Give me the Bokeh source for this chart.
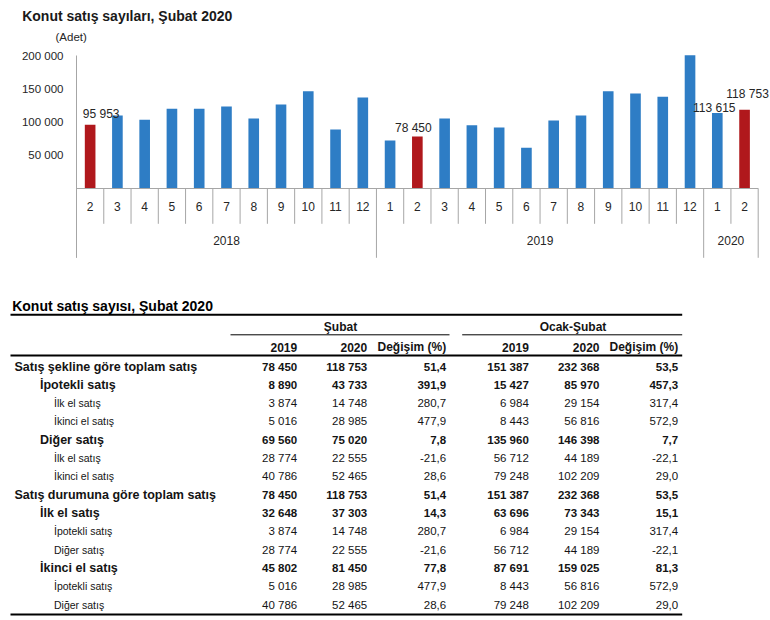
from bokeh.plotting import figure
from bokeh.models import Range1d, FixedTicker, LinearAxis, ColumnDataSource
from bokeh.core.properties import value
from bokeh.embed import file_html
from bokeh.resources import INLINE

# ---------------- data: chart ----------------
years = ["2018"] * 11 + ["2019"] * 12 + ["2020"] * 2
months = ["2", "3", "4", "5", "6", "7", "8", "9", "10", "11", "12",
          "1", "2", "3", "4", "5", "6", "7", "8", "9", "10", "11", "12",
          "1", "2"]
sales = [95953, 110000, 103500, 120000, 120000, 123500, 105500, 126500, 146500, 89000, 137000,
         72500, 78450, 105500, 95500, 92000, 61500, 102500, 110000, 146500, 143000, 138000, 200300,
         113615, 118753]
highlight_month = "2"
labelled = [0, 12, 23, 24]
y_ticks = [50000, 100000, 150000, 200000]

chart_title = "Konut satış sayıları, Şubat 2020"
unit_text = "(Adet)"

# ---------------- data: table ----------------
table_title = "Konut satış sayısı, Şubat 2020"
group_headers = ["Şubat", "Ocak-Şubat"]
col_headers = ["2019", "2020", "Değişim (%)", "2019", "2020", "Değişim (%)"]
row_labels = ["Satış şekline göre toplam satış", "İpotekli satış", "İlk el satış", "İkinci el satış",
              "Diğer satış", "İlk el satış", "İkinci el satış",
              "Satış durumuna göre toplam satış", "İlk el satış", "İpotekli satış", "Diğer satış",
              "İkinci el satış", "İpotekli satış", "Diğer satış"]
row_level = [0, 1, 2, 2, 1, 2, 2, 0, 1, 2, 2, 1, 2, 2]
subat_2019 = [78450, 8890, 3874, 5016, 69560, 28774, 40786, 78450, 32648, 3874, 28774, 45802, 5016, 40786]
subat_2020 = [118753, 43733, 14748, 28985, 75020, 22555, 52465, 118753, 37303, 14748, 22555, 81450, 28985, 52465]
subat_chg = [51.4, 391.9, 280.7, 477.9, 7.8, -21.6, 28.6, 51.4, 14.3, 280.7, -21.6, 77.8, 477.9, 28.6]
ocak_2019 = [151387, 15427, 6984, 8443, 135960, 56712, 79248, 151387, 63696, 6984, 56712, 87691, 8443, 79248]
ocak_2020 = [232368, 85970, 29154, 56816, 146398, 44189, 102209, 232368, 73343, 29154, 44189, 159025, 56816, 102209]
ocak_chg = [53.5, 457.3, 317.4, 572.9, 7.7, -22.1, 29.0, 53.5, 15.1, 317.4, -22.1, 81.3, 572.9, 29.0]

# ---------------- styles ----------------
FONT = value("Liberation Sans")
BLUE = "#2E7DC5"
RED = "#B0181C"
AXIS_GRAY = "#A6A6A6"
TXT = "#262626"
TBL = "#141414"


def fmt_int(v):
    return f"{v:,}".replace(",", " ")


def fmt_pct(v):
    return f"{v:.1f}".replace(".", ",")


# ---------------- page geometry (pixels) ----------------
W, H = 770, 620
plot_left, plot_right = 76.0, 757.7      # category area
y_zero_px, y_top_px = 188.3, 55.0        # pixel rows of 0 and 200 000
n = len(sales)
PXC = (plot_right - plot_left) / n       # pixels per category
UPP = (y_ticks[-1] - 0) / (y_zero_px - y_top_px)   # value units per pixel

x_start = -0.5 - plot_left / PXC
x_end = n - 0.5 + (W - plot_right) / PXC
y_end = y_ticks[-1] + y_top_px * UPP
y_start = -(H - y_zero_px) * UPP
y_axis_bottom = -69.0 * UPP
month_sep_bottom = -35.0 * UPP

p = figure(width=W, height=H, x_range=Range1d(x_start, x_end), y_range=Range1d(y_start, y_end),
           x_axis_location=None, y_axis_location=None, output_backend="svg",
           toolbar_location=None, min_border=0)
p.outline_line_color = None
p.grid.visible = False
p.background_fill_color = "white"
p.border_fill_color = "white"

# y axis
ya = LinearAxis(fixed_location=-0.5, bounds=(y_axis_bottom, y_ticks[-1]),
                ticker=FixedTicker(ticks=y_ticks, minor_ticks=[]))
ya.major_label_overrides = {t: fmt_int(t) for t in y_ticks}
ya.axis_line_color = AXIS_GRAY
ya.major_tick_out = 0
ya.major_tick_in = 0
ya.minor_tick_out = 0
ya.minor_tick_in = 0
ya.major_label_standoff = 13
ya.major_label_text_font = "Liberation Sans"
ya.major_label_text_font_size = "11.5px"
ya.major_label_text_color = TXT
p.add_layout(ya, "left")

xs = list(range(n))
year_bounds = [-0.5] + [i - 0.5 for i in range(1, n) if years[i] != years[i - 1]] + [n - 0.5]
month_bounds = [i + 0.5 for i in range(n - 1) if (i + 0.5) not in year_bounds]

# category separators
p.segment(x0=month_bounds, x1=month_bounds, y0=[0] * len(month_bounds),
          y1=[month_sep_bottom] * len(month_bounds), line_color=AXIS_GRAY, line_width=1)
p.segment(x0=year_bounds, x1=year_bounds, y0=[0] * len(year_bounds),
          y1=[y_axis_bottom] * len(year_bounds), line_color=AXIS_GRAY, line_width=1)

# month axis
xa = LinearAxis(fixed_location=0, bounds=(-0.5, n - 0.5),
                ticker=FixedTicker(ticks=xs, minor_ticks=[]))
xa.major_label_overrides = {i: m for i, m in zip(xs, months)}
xa.axis_line_color = AXIS_GRAY
xa.major_tick_out = 0
xa.major_tick_in = 0
xa.minor_tick_out = 0
xa.minor_tick_in = 0
xa.major_label_standoff = 13
xa.major_label_text_font = "Liberation Sans"
xa.major_label_text_font_size = "12px"
xa.major_label_text_color = TXT
p.add_layout(xa, "below")

# year axis
year_names = list(dict.fromkeys(years))
year_centers = []
for yname in year_names:
    idx = [i for i, yy in enumerate(years) if yy == yname]
    year_centers.append(sum(idx) / len(idx))
ya2 = LinearAxis(fixed_location=0, bounds=(-0.5, n - 0.5),
                 ticker=FixedTicker(ticks=year_centers, minor_ticks=[]))
ya2.major_label_overrides = {c: yn for c, yn in zip(year_centers, year_names)}
ya2.axis_line_color = None
ya2.major_tick_out = 0
ya2.major_tick_in = 0
ya2.minor_tick_out = 0
ya2.minor_tick_in = 0
ya2.major_label_standoff = 47
ya2.major_label_text_font = "Liberation Sans"
ya2.major_label_text_font_size = "12px"
ya2.major_label_text_color = TXT
p.add_layout(ya2, "below")

# bars
colors = [RED if m == highlight_month else BLUE for m in months]
src = ColumnDataSource(dict(x=xs, top=sales, color=colors))
p.vbar(x="x", top="top", bottom=0, width=0.39, fill_color="color", line_color=None, source=src)

# value labels
lab_dx = [11, -4, -3, 3]
lab_gap = [11, 9, 5.5, 16]
lab_src = ColumnDataSource(dict(
    x=[labelled[k] + lab_dx[k] / PXC for k in range(len(labelled))],
    y=[sales[labelled[k]] + lab_gap[k] * UPP for k in range(len(labelled))],
    text=[fmt_int(sales[i]) for i in labelled]))
p.text(x="x", y="y", text="text", source=lab_src, text_align="center",
       text_baseline="alphabetic", text_font=FONT, text_font_size="12px", text_color=TXT)


# chart titles
def px_x(px):
    return -0.5 + (px - plot_left) / PXC


def px_y(py):
    return (y_zero_px - py) * UPP


p.text(x=[px_x(21.7)], y=[px_y(15.5)], text=[chart_title], text_align="left",
       text_baseline="middle", text_font=FONT, text_font_size="14px", text_font_style="bold",
       text_color="#1a1a1a")
p.text(x=[px_x(55)], y=[px_y(36.5)], text=[unit_text], text_align="left",
       text_baseline="middle", text_font=FONT, text_font_size="11.5px", text_color=TXT)

# ================= table (own pixel / row ranges) =================
ROW = 18.33
row0_px = 366.0
p.extra_x_ranges = {"tx": Range1d(0, W)}
p.extra_y_ranges = {"ty": Range1d((H - row0_px) / ROW, -row0_px / ROW)}
TR = dict(x_range_name="tx", y_range_name="ty")

nrows = len(row_labels)
ridx = list(range(nrows))
level_x = [14, 39.5, 53.5]
col_right = [296.7, 366.7, 445.7, 528.3, 599.0, 677.7]
group_center = [340, 572.5]
group_span = [(230, 449), (461.7, 681.7)]
table_left, table_right = 10, 681.7

y_title = -60.5 / ROW
y_rule1 = -51.7 / ROW
y_group = -40 / ROW
y_thin = -31.7 / ROW
y_head = -19.3 / ROW
y_rule2 = -11 / ROW
y_rule3 = nrows - 1 + 9.7 / ROW

t = p
t.segment(x0=[table_left] * 3, x1=[table_right] * 3, y0=[y_rule1, y_rule2, y_rule3],
          y1=[y_rule1, y_rule2, y_rule3], line_color="black", line_width=2, **TR)
t.segment(x0=[a for a, b in group_span], x1=[b for a, b in group_span],
          y0=[y_thin] * 2, y1=[y_thin] * 2, line_color="black", line_width=1, **TR)

t.text(x=[11.7], y=[y_title], text=[table_title], text_align="left", text_baseline="middle",
       text_font=FONT, text_font_size="14px", text_font_style="bold", text_color="black", **TR)
t.text(x=group_center, y=[y_group] * 2, text=group_headers, text_align="center",
       text_baseline="middle", text_font=FONT, text_font_size="12px", text_font_style="bold",
       text_color=TBL, **TR)
t.text(x=col_right, y=[y_head] * len(col_headers), text=col_headers, text_align="right",
       text_baseline="middle", text_font=FONT, text_font_size="12px", text_font_style="bold",
       text_color=TBL, **TR)

styles = ["bold" if lv < 2 else "normal" for lv in row_level]
lab_sizes = ["12.5px" if lv < 2 else "10.5px" for lv in row_level]
lsrc = ColumnDataSource(dict(x=[level_x[lv] for lv in row_level], y=ridx, text=row_labels,
                             style=styles, size=lab_sizes))
t.text(x="x", y="y", text="text", source=lsrc, text_align="left", text_baseline="middle",
       text_font=FONT, text_font_size="size", text_font_style="style", text_color=TBL, **TR)

cols = [[fmt_int(v) for v in subat_2019], [fmt_int(v) for v in subat_2020],
        [fmt_pct(v) for v in subat_chg], [fmt_int(v) for v in ocak_2019],
        [fmt_int(v) for v in ocak_2020], [fmt_pct(v) for v in ocak_chg]]
for cx, ctext in zip(col_right, cols):
    csrc = ColumnDataSource(dict(x=[cx] * nrows, y=ridx, text=ctext, style=styles))
    t.text(x="x", y="y", text="text", source=csrc, text_align="right", text_baseline="middle",
           text_font=FONT, text_font_size="11.5px", text_font_style="style", text_color=TBL, **TR)

open("out.html", "w").write(file_html(p, INLINE))
